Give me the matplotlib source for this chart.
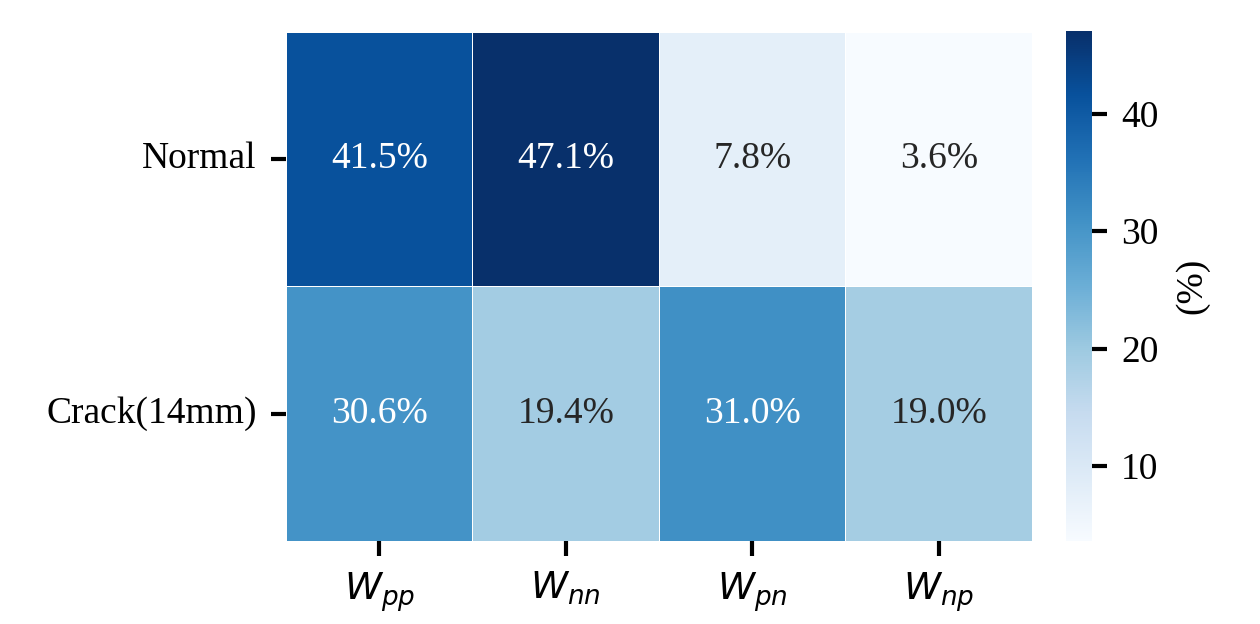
import numpy as np
import pandas as pd
import matplotlib
matplotlib.use("Agg")
import matplotlib.pyplot as plt
import seaborn as sns

# Data
rows = ['Normal', 'Crack(14mm)']
cols = ['$W_{pp}$', '$W_{nn}$', '$W_{pn}$', '$W_{np}$']
normal = [41.5, 47.1, 7.8, 3.6]
crack = [30.6, 19.4, 31.0, 19.0]

df = pd.DataFrame([normal, crack], index=rows, columns=cols)
labels = np.array([[f"{v:.1f}%" for v in r] for r in df.values])

plt.rcParams['font.family'] = ['Liberation Serif', 'DejaVu Serif']
plt.rcParams['font.size'] = 9
plt.rcParams['mathtext.fontset'] = 'dejavusans'

fig = plt.figure(figsize=(4.2, 2.08), dpi=300)
ax = fig.add_axes([0.227, 0.133, 0.592, 0.816])
cax = fig.add_axes([0.846, 0.133, 0.0206, 0.818])

sns.heatmap(df, annot=labels, fmt='', cmap='Blues', linewidths=0.2, linecolor='white',
            ax=ax, cbar_ax=cax, annot_kws={'fontsize': 9})
ax.tick_params(axis='y', rotation=0, labelsize=9, width=1.0)
ax.tick_params(axis='x', labelsize=9, width=1.0)
cax.set_ylabel('(%)', fontsize=9)
cax.tick_params(labelsize=9, width=1.0)

fig.savefig('out.png', dpi=300)
